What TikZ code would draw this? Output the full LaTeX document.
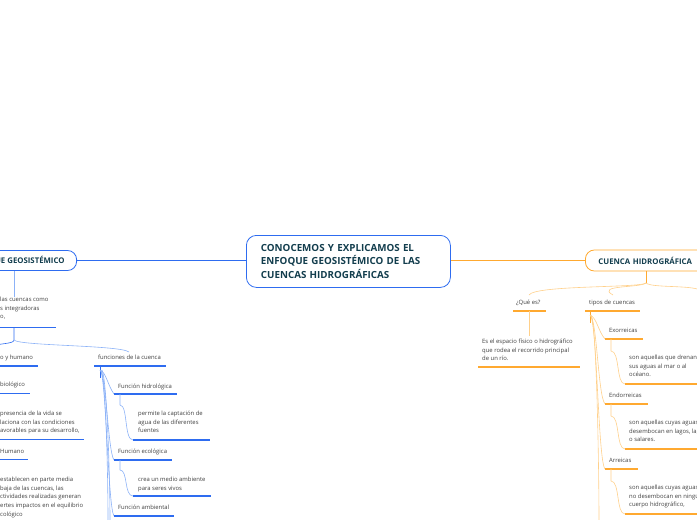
\documentclass[tikz,border=0pt]{standalone}
\usepackage{fontspec}
\setmainfont{Open Sans}
\begin{document}
\begin{tikzpicture}[x=1pt,y=-1pt,
 txt/.style={anchor=north west,inner sep=0pt,align=left,font=\fontsize{5.9}{8.6}\selectfont,text=black!75},
 bul/.style={line width=1.6pt,draw=#1}]
\definecolor{B}{HTML}{2E6CF0}\definecolor{BL}{HTML}{8CB2F7}
\definecolor{O}{HTML}{FFA930}\definecolor{OL}{HTML}{FFD08A}
\definecolor{T}{HTML}{123D4D}
\useasboundingbox (0,0) rectangle (697,520);
\clip (0,0) rectangle (697,520);
% main nodes
\node[draw=B,line width=0.8pt,rounded corners=10pt,minimum width=204pt,minimum height=52pt,anchor=north west,text width=175pt,inner xsep=14pt,align=left,font=\bfseries\fontsize{9.8}{13.5}\selectfont,text=T] (c) at (246,235) {CONOCEMOS Y EXPLICAMOS EL\\ENFOQUE GEOSISTÉMICO DE LAS\\CUENCAS HIDROGRÁFICAS};
\node[draw=B,line width=0.8pt,rounded corners=9pt,minimum height=20pt,anchor=east,font=\bfseries\fontsize{7.8}{9}\selectfont,text=T,inner xsep=12pt] (l) at (77,260.5) {ENFOQUE GEOSISTÉMICO};
\node[draw=O,line width=0.8pt,rounded corners=9pt,minimum height=21pt,minimum width=130pt,anchor=west,font=\bfseries\fontsize{7.8}{9}\selectfont,text=T,inner xsep=13pt,text width=110pt,align=left] (r) at (585,260.5) {CUENCA HIDROGRÁFICA};
\draw[draw=B,line width=0.8pt] (c.west|-0,260.5) -- (l.east);
\draw[draw=O,line width=0.8pt] (c.east|-0,260.5) -- (r.west);
% left subtree
\node[txt] (l1) at (0,297) {las cuencas como\\s integradoras\\o,};
\draw[bul=B] (0,327.5) -- (56,327.5);
\draw[draw=BL,line width=0.6pt] (14,271) -- (14,297);
\draw[draw=B,line width=0.6pt] (14,328) -- (14,340) .. controls (14,344) and (0,343) .. (-6,346);
\draw[draw=BL,line width=0.6pt] (14,340) .. controls (20,346) and (120,345) .. (129,352);
\node[txt] (ah) at (0,355) {o y humano};
\draw[bul=B] (0,366) -- (38,366);
\node[txt] (fc) at (98,355) {funciones de la cuenca};
\draw[bul=B] (94,366) -- (166,366);
\node[txt] (bi) at (0,382) {biológico};
\draw[bul=B] (0,393.5) -- (30,393.5);
\node[txt] (bid) at (0,411) {presencia de la vida se\\laciona con las condiciones\\avorables para su desarrollo,};
\draw[bul=B] (0,439.5) -- (84,439.5);
\node[txt] (hu) at (0,449) {Humano};
\draw[bul=B] (0,459.5) -- (28,459.5);
\node[txt] (hud) at (0,477) {establecen en parte media\\baja de las cuencas, las\\ctividades realizadas generan\\ertes impactos en el equilibrio\\cológico};
% funciones
\draw[draw=B,line width=0.8pt] (100,366) -- (100,378);
\foreach \yy in {394,460,516}{\draw[draw=BL,line width=0.6pt] (100,370) .. controls (106,372) and (108,\yy-8) .. (114,\yy);}
\draw[draw=BL,line width=0.6pt] (101,370) .. controls (106,380) and (108,480) .. (108,520);
\draw[draw=BL,line width=0.6pt] (102,370) .. controls (107,380) and (110,480) .. (110,520);
\node[txt] (f1) at (118,384) {Función hidrológica};
\draw[bul=B] (114,394) -- (177,394);
\node[txt] (f1d) at (138,411) {permite la captación de\\agua de las diferentes\\fuentes};
\draw[bul=B] (133,440) -- (210,440);
\draw[draw=BL,line width=0.6pt] (120,394) -- (120,405) .. controls (128,405) and (124,440) .. (133,440);
\node[txt] (f2) at (118,449) {Función ecológica};
\draw[bul=B] (114,460) -- (172,460);
\node[txt] (f2d) at (138,477) {crea un medio ambiente\\para seres vivos};
\draw[bul=B] (133,496) -- (211,496);
\draw[draw=BL,line width=0.6pt] (120,460) -- (120,470) .. controls (128,470) and (124,496) .. (133,496);
\node[txt] (f3) at (118,505) {Función ambiental};
\draw[bul=B] (114,516) -- (174,516);
% right subtree
\draw[draw=O,line width=0.6pt] (646,271) -- (646,283);
\draw[draw=OL,line width=0.6pt] (646,283) .. controls (640,288) and (535,285) .. (529,295);
\draw[draw=OL,line width=0.6pt] (646,283) .. controls (640,288) and (595,285) .. (613,295);
\draw[draw=OL,line width=0.6pt] (646,283) .. controls (652,288) and (690,285) .. (700,290);
\node[txt] (q) at (516,300) {¿Qué es?};
\draw[bul=O] (513,311) -- (546,311);
\draw[draw=OL,line width=0.6pt] (529,311) -- (529,336);
\node[txt] (qd) at (482,339) {Es el espacio físico o hidrográfico\\que rodea el recorrido principal\\de un río.};
\draw[bul=O] (478,367) -- (580,367);
\node[txt] (tc) at (589,300) {tipos de cuencas};
\draw[bul=O] (585,311) -- (640,311);
\draw[draw=O,line width=0.8pt] (590,311) -- (590,323);
\foreach \yy in {339,404,469}{\draw[draw=OL,line width=0.6pt] (590,315) .. controls (597,318) and (598,\yy-8) .. (605,\yy);}
\draw[draw=OL,line width=0.6pt] (591,315) .. controls (597,325) and (599,480) .. (599,520);
\foreach \t/\yy/\w/\d in {Exorreicas/339/643/{son aquellas que drenan\\sus aguas al mar o al\\océano.},Endorreicas/404/648/{son aquellas cuyas aguas\\desembocan en lagos, lagunas\\o salares.},Arreicas/469/638/{son aquellas cuyas aguas\\no desembocan en ningún\\cuerpo hidrográfico,}}{
 \node[txt] at (609,\yy-11) {\t};
 \draw[bul=O] (605,\yy) -- (\w,\yy);
 \node[txt] at (629,\yy+16) {\d};
 \draw[bul=O] (625,\yy+45) -- (700,\yy+45);
 \draw[draw=OL,line width=0.6pt] (611,\yy) -- (611,\yy+12) .. controls (620,\yy+12) and (616,\yy+45) .. (625,\yy+45);
}
\end{tikzpicture}
\end{document}
